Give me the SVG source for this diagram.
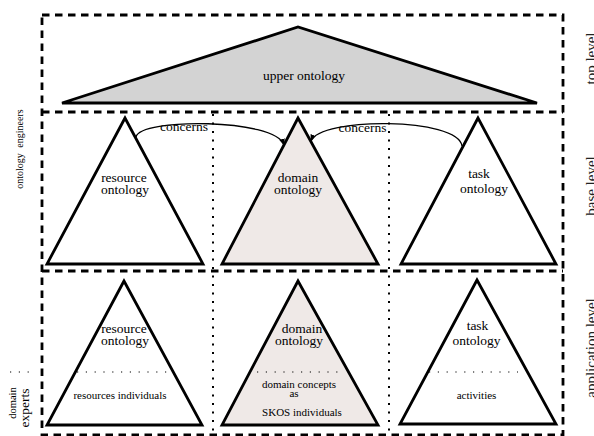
<svg xmlns="http://www.w3.org/2000/svg" width="594" height="436" viewBox="0 0 594 436" font-family="'Liberation Serif','Times New Roman',serif">
<style>
.dash{fill:none;stroke:#000;stroke-width:2.8;stroke-dasharray:7.5 5.5}
.vdot{fill:none;stroke:#000;stroke-width:2;stroke-dasharray:2 6.5}
.hdot{fill:none;stroke:#000;stroke-width:1.2;stroke-dasharray:1.2 7.6}
.tri{stroke:#000;stroke-width:2.8;stroke-linejoin:miter}
.w{fill:#fff}
.pink{fill:#efe9e7}
text{font-family:"Liberation Serif","Times New Roman",serif;fill:#000}
.t13{font-size:13.5px;text-anchor:middle}
.t11{font-size:11px;text-anchor:middle}
.side{font-size:15px;text-anchor:middle;fill:#222}
.conn{fill:none;stroke:#000;stroke-width:1.3;marker-end:url(#arr)}
</style>
<defs>
<marker id="arr" viewBox="0 0 10 10" refX="9" refY="5" markerWidth="7" markerHeight="7" orient="auto" markerUnits="userSpaceOnUse">
<path d="M0,1 L10,5 L0,9 z" fill="#000"/>
</marker>
</defs>

<g id="frame">
<rect class="dash" x="42" y="15" width="521" height="420"/>
<line class="dash" x1="42" y1="112" x2="563" y2="112"/>
<line class="dash" x1="42" y1="271" x2="563" y2="271"/>
<line class="vdot" x1="213" y1="114" x2="213" y2="434"/>
<line class="vdot" x1="389" y1="114" x2="389" y2="434"/>
</g>

<g id="upper-ontology">
<polygon class="tri" points="62,103 298,27 537,103" fill="#d3d3d3"/>
<text class="t13" x="304" y="79.5">upper ontology</text>
</g>

<g id="resource-base">
<polygon class="tri w" points="125,118 47,264 203,264"/>
<text class="t13" x="124" y="181.5">resource</text>
<text class="t13" x="125" y="194">ontology</text>
</g>

<g id="domain-base">
<polygon class="tri pink" points="298,118 222,264 378,264"/>
<text class="t13" x="298" y="181.5">domain</text>
<text class="t13" x="298" y="194">ontology</text>
</g>

<g id="task-base">
<polygon class="tri w" points="478,118 401,264 556,264"/>
<text class="t13" x="479" y="178">task</text>
<text class="t13" x="484" y="192.5">ontology</text>
</g>

<g id="resource-app">
<polygon class="tri w" points="124,281 47,425 202,425"/>
<text class="t13" x="124" y="332.5">resource</text>
<text class="t13" x="125" y="345">ontology</text>
<line class="hdot" x1="77" y1="372" x2="167" y2="372"/>
<text class="t11" x="120" y="399">resources individuals</text>
</g>

<g id="domain-app">
<polygon class="tri pink" points="298,281 222,425 378,425"/>
<text class="t13" x="302" y="332.5">domain</text>
<text class="t13" x="299" y="345">ontology</text>
<line class="hdot" x1="257" y1="372" x2="341" y2="372"/>
<text class="t11" x="299" y="388">domain concepts</text>
<text class="t11" x="294" y="396.5">as</text>
<text class="t11" x="302" y="416">SKOS individuals</text>
</g>

<g id="task-app">
<polygon class="tri w" points="477,280 400,424 556,424"/>
<text class="t13" x="477.5" y="330">task</text>
<text class="t13" x="476.5" y="344.5">ontology</text>
<line class="hdot" x1="429" y1="372" x2="518" y2="372"/>
<text class="t11" x="476.5" y="399">activities</text>
</g>

<g id="connectors">
<path class="conn" d="M136,137 C140,118 275,118 284,145"/>
<text class="t13" x="184" y="131">concerns</text>
<path class="conn" d="M462,146 C458,117 320,117 311,141"/>
<text class="t13" x="362.5" y="132">concerns</text>
</g>

<g id="labels">
<text transform="translate(22.5,149) rotate(-90)" style="font-size:10px;text-anchor:middle;word-spacing:3px">ontology engineers</text>
<text transform="translate(15.5,403) rotate(-90)" style="font-size:10.5px;text-anchor:middle">domain</text>
<text transform="translate(28.5,408) rotate(-90)" style="font-size:13.5px;text-anchor:middle">experts</text>
<line class="hdot" x1="10" y1="372" x2="35" y2="372"/>
<text class="side" transform="translate(595.5,58.5) rotate(-90)">top level</text>
<text class="side" transform="translate(595.5,186) rotate(-90)">base level</text>
<text class="side" transform="translate(595.5,348) rotate(-90)">application level</text>
</g>
</svg>
